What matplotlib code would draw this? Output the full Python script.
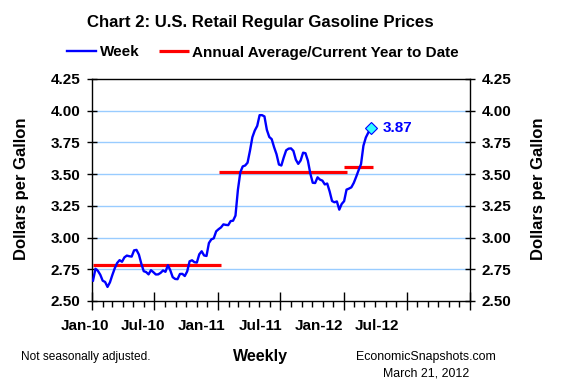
import matplotlib
matplotlib.use("Agg")
import matplotlib.pyplot as plt
import matplotlib.dates as mdates
import pandas as pd

plt.rcParams['font.family'] = ['Liberation Sans', 'DejaVu Sans']

# ---------------- data ----------------
start_week = "2010-01-04"
prices_2010 = [2.661, 2.754, 2.738, 2.707, 2.660, 2.650, 2.611, 2.647, 2.705, 2.758,
               2.800, 2.822, 2.809, 2.844, 2.858, 2.853, 2.850, 2.899, 2.903, 2.866,
               2.794, 2.735, 2.728, 2.710, 2.743, 2.727, 2.709, 2.710, 2.722, 2.741,
               2.730, 2.782, 2.742, 2.688, 2.674, 2.672, 2.713, 2.714, 2.697, 2.733,
               2.813, 2.821, 2.806, 2.803, 2.868, 2.892, 2.859, 2.855, 2.957, 2.986,
               2.994, 3.049]
prices_2011 = [3.066, 3.080, 3.104, 3.100, 3.098, 3.130, 3.133, 3.173, 3.375, 3.514,
               3.561, 3.568, 3.590, 3.684, 3.791, 3.844, 3.880, 3.965, 3.965, 3.955,
               3.849, 3.793, 3.776, 3.712, 3.657, 3.576, 3.568, 3.632, 3.688, 3.701,
               3.703, 3.683, 3.614, 3.581, 3.608, 3.669, 3.665, 3.606, 3.505, 3.432,
               3.430, 3.475, 3.457, 3.449, 3.419, 3.426, 3.364, 3.288, 3.278, 3.285,
               3.220, 3.265]
prices_2012 = [3.287, 3.378, 3.386, 3.396, 3.431, 3.479, 3.531, 3.579, 3.724, 3.789,
               3.827, 3.867]

avg_values = [2.78, 3.52, 3.56]
avg_start = ["2010-01-04", "2011-01-03", "2012-01-02"]
avg_end = ["2011-01-10", "2012-01-09", "2012-03-26"]

last_label = "3.87"
x_labels = ["Jan-10", "Jul-10", "Jan-11", "Jul-11", "Jan-12", "Jul-12"]
y_ticks = [2.50, 2.75, 3.00, 3.25, 3.50, 3.75, 4.00, 4.25]

weekly_prices = prices_2010 + prices_2011 + prices_2012
weeks = pd.date_range(start_week, periods=len(weekly_prices), freq="7D")

# ---------------- figure ----------------
W, H = 565, 390
fig = plt.figure(figsize=(W / 100, H / 100), dpi=100)
fig.patch.set_facecolor("white")
ax = fig.add_axes([92 / W, (H - 301) / H, 378 / W, 222 / H])

grid_color = "#99CCFF"
for yv in y_ticks[1:-1]:
    ax.axhline(yv, color=grid_color, lw=1.0, zorder=1)

line_week, = ax.plot(weeks, weekly_prices, color="#0000FF", lw=1.7, zorder=3,
                     label="Week")
for v, s, e in zip(avg_values, avg_start, avg_end):
    ln, = ax.plot([pd.Timestamp(s), pd.Timestamp(e)], [v, v], color="#FF0000",
                  lw=2.3, zorder=2, solid_capstyle="butt")
ax.plot([weeks[-1]], [weekly_prices[-1]], marker="D", ms=6, mfc="#33FFFF",
        mec="#0000FF", mew=0.8, zorder=4, ls="none")
ax.annotate(last_label, (weeks[-1], weekly_prices[-1]), xytext=(9, 0),
            textcoords="offset points", ha="left", va="center",
            color="#0000FF", fontsize=11, fontweight="bold")

ax.set_xlim(pd.Timestamp("2010-01-01"), pd.Timestamp("2013-01-01"))
ax.set_ylim(2.5, 4.25)

ax.xaxis.set_major_locator(mdates.MonthLocator(bymonth=[1, 7]))
ax.xaxis.set_minor_locator(mdates.MonthLocator())
ax.tick_params(axis="x", which="major", direction="inout", length=13, width=1,
               labelbottom=False)
ax.tick_params(axis="x", which="minor", direction="out", length=4, width=1)

ax.set_yticks(y_ticks)
ax.yaxis.set_major_formatter(matplotlib.ticker.FormatStrFormatter("%.2f"))
ax.tick_params(axis="y", which="major", direction="inout", length=7, width=1,
               left=True, right=True, labelleft=True, labelright=True,
               labelsize=11, pad=5)
for t in ax.yaxis.get_major_ticks():
    t.label1.set_fontweight("bold")
    t.label2.set_fontweight("bold")

for sp in ax.spines.values():
    sp.set_color("black")
    sp.set_linewidth(1.0)

# x labels (Excel places them slightly compressed)
for i, lab in enumerate(x_labels):
    fig.text((84.7 + 58.5 * i) / W, 1 - 326 / H, lab, ha="center", va="center",
             fontsize=11, fontweight="bold")

fig.text(21.7 / W, 1 - 189 / H, "Dollars per Gallon", rotation=90, ha="center",
         va="center", fontsize=12, fontweight="bold")
fig.text(538 / W, 1 - 189 / H, "Dollars per Gallon", rotation=90, ha="center",
         va="center", fontsize=12, fontweight="bold")

fig.text(260.5 / W, 1 - 23 / H, "Chart 2: U.S. Retail Regular Gasoline Prices",
         ha="center", va="center", fontsize=12.1, fontweight="bold")

# legend
leg = fig.legend(handles=[line_week, ln],
                 labels=["Week", "Annual Average/Current Year to Date"],
                 loc="center", bbox_to_anchor=(263 / W, 1 - 52.5 / H), ncol=2,
                 frameon=False, prop={"weight": "bold", "size": 11},
                 handlelength=1.9, handletextpad=0.25, columnspacing=1.3,
                 borderpad=0, borderaxespad=0)

fig.text(260 / W, 1 - 357 / H, "Weekly", ha="center", va="center",
         fontsize=11.5, fontweight="bold")
fig.text(21 / W, 1 - 357 / H, "Not seasonally adjusted.", ha="left",
         va="center", fontsize=8.6)
fig.text(426 / W, 1 - 357 / H, "EconomicSnapshots.com", ha="center",
         va="center", fontsize=8.9)
fig.text(426 / W, 1 - 373 / H, "March 21, 2012", ha="center", va="center",
         fontsize=8.9)

fig.savefig("out.png", dpi=100, facecolor="white")
